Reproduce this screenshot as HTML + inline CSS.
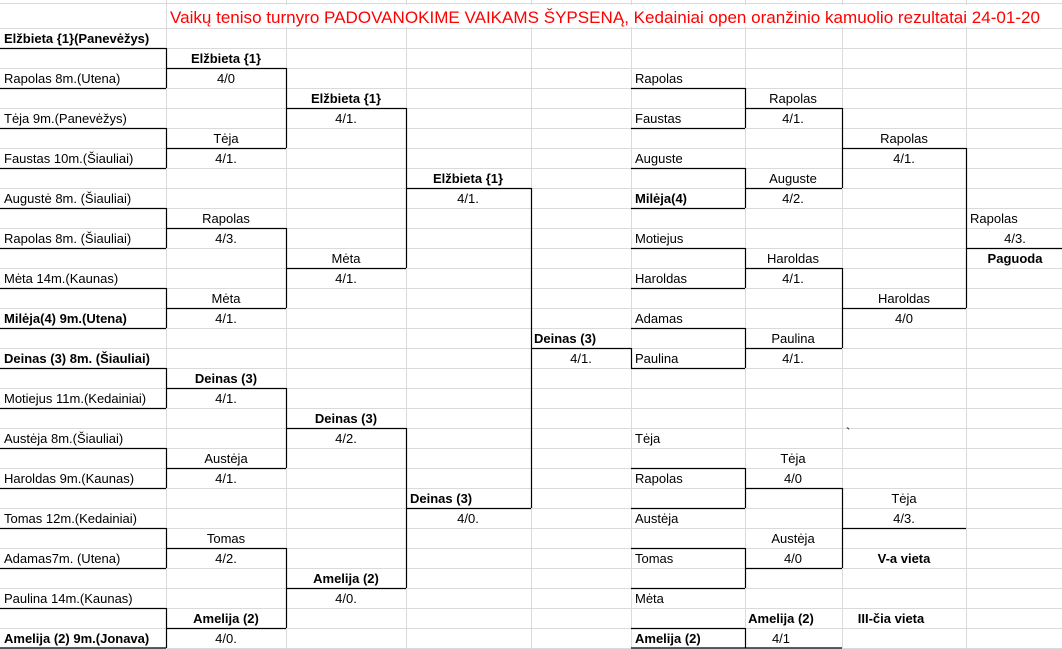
<!DOCTYPE html>
<html><head><meta charset="utf-8">
<style>
html,body{margin:0;padding:0;background:#fff;}
svg{display:block;}
text{font-family:"Liberation Sans",Arial,sans-serif;font-size:13px;fill:#000;}
.b{font-weight:bold;}
.c{text-anchor:middle;}
</style></head>
<body>
<svg width="1062" height="649" viewBox="0 0 1062 649" xmlns="http://www.w3.org/2000/svg">
<g stroke="#dadada" stroke-width="1">
<path d="M0 3.5H1062 M0 28.5H1062 M0 48.5H1062 M0 68.5H1062 M0 88.5H1062 M0 108.5H1062 M0 128.5H1062 M0 148.5H1062 M0 168.5H1062 M0 188.5H1062 M0 208.5H1062 M0 228.5H1062 M0 248.5H1062 M0 268.5H1062 M0 288.5H1062 M0 308.5H1062 M0 328.5H1062 M0 348.5H1062 M0 368.5H1062 M0 388.5H1062 M0 408.5H1062 M0 428.5H1062 M0 448.5H1062 M0 468.5H1062 M0 488.5H1062 M0 508.5H1062 M0 528.5H1062 M0 548.5H1062 M0 568.5H1062 M0 588.5H1062 M0 608.5H1062 M0 628.5H1062 M0 648.5H1062"/>
<path d="M166.5 0V649 M286.5 0V649 M406.5 0V649 M531.5 0V649 M631.5 0V649 M745.5 0V649 M842.5 0V649 M966.5 0V649"/>
</g>
<rect x="168" y="5" width="880" height="22" fill="#fff"/>
<g stroke="#000" stroke-width="1.2" fill="none">
<path d="M0 48.5H166 M0 88.5H166 M0 128.5H166 M0 168.5H166 M0 208.5H166 M0 248.5H166 M0 288.5H166 M0 328.5H166 M0 368.5H166 M0 408.5H166 M0 448.5H166 M0 488.5H166 M0 528.5H166 M0 568.5H166 M0 608.5H166 M0 648H166"/>
<path d="M166.5 48V88 M166.5 128V168 M166.5 208V248 M166.5 288V328 M166.5 368V408 M166.5 448V488 M166.5 528V568 M166.5 608V648"/>
<path d="M166 68.5H286 M166 148.5H286 M166 228.5H286 M166 308.5H286 M166 388.5H286 M166 468.5H286 M166 548.5H286 M166 628.5H286"/>
<path d="M286.5 68V148 M286.5 228V308 M286.5 388V468 M286.5 548V628"/>
<path d="M286 108.5H406 M286 268.5H406 M286 428.5H406 M286 588.5H406"/>
<path d="M406.5 108V268 M406.5 428V588"/>
<path d="M406 188.5H531 M406 508.5H531 M531.5 188V508"/>
<path d="M531 348.5H631 M631.5 348V368"/>
<path d="M631 88.5H745 M631 128.5H745 M631 168.5H745 M631 208.5H745 M631 248.5H745 M631 288.5H745 M631 328.5H745 M631 368.5H745 M631 468.5H745 M631 508.5H745 M631 548.5H745 M631 588.5H745 M631 628.5H745 M631 648H745"/>
<path d="M745.5 88V128 M745.5 168V208 M745.5 248V288 M745.5 328V368 M745.5 468V508 M745.5 548V588 M745.5 628V648"/>
<path d="M745 108.5H842 M745 188.5H842 M745 268.5H842 M745 348.5H842 M745 488.5H842 M745 568.5H842 M745 648H842"/>
<path d="M842.5 108V188 M842.5 268V348 M842.5 488V568"/>
<path d="M842 148.5H966 M842 308.5H966 M842 528.5H966 M966.5 148V308 M966 248.5H1062"/>
</g>
<text x="170" y="23" style="font-size:17px;fill:#ff0000" textLength="870" lengthAdjust="spacingAndGlyphs">Vaikų teniso turnyro PADOVANOKIME VAIKAMS ŠYPSENĄ, Kedainiai open oranžinio kamuolio rezultatai 24-01-20</text>

<!-- Column A -->
<text x="4" y="43" class="b">Elžbieta {1}(Panevėžys)</text>
<text x="4" y="83">Rapolas 8m.(Utena)</text>
<text x="4" y="123">Tėja 9m.(Panevėžys)</text>
<text x="4" y="163">Faustas 10m.(Šiauliai)</text>
<text x="4" y="203">Augustė 8m. (Šiauliai)</text>
<text x="4" y="243">Rapolas  8m.  (Šiauliai)</text>
<text x="4" y="283">Mėta 14m.(Kaunas)</text>
<text x="4" y="323" class="b">Milėja(4) 9m.(Utena)</text>
<text x="4" y="363" class="b">Deinas (3) 8m. (Šiauliai)</text>
<text x="4" y="403">Motiejus 11m.(Kedainiai)</text>
<text x="4" y="443">Austėja 8m.(Šiauliai)</text>
<text x="4" y="483">Haroldas 9m.(Kaunas)</text>
<text x="4" y="523">Tomas 12m.(Kedainiai)</text>
<text x="4" y="563">Adamas7m. (Utena)</text>
<text x="4" y="603">Paulina 14m.(Kaunas)</text>
<text x="4" y="643" class="b">Amelija (2) 9m.(Jonava)</text>

<!-- Column B -->
<text x="226" y="63" class="b c">Elžbieta {1}</text><text x="226" y="83" class="c">4/0</text>
<text x="226" y="143" class="c">Tėja</text><text x="226" y="163" class="c">4/1.</text>
<text x="226" y="223" class="c">Rapolas</text><text x="226" y="243" class="c">4/3.</text>
<text x="226" y="303" class="c">Mėta</text><text x="226" y="323" class="c">4/1.</text>
<text x="226" y="383" class="b c">Deinas (3)</text><text x="226" y="403" class="c">4/1.</text>
<text x="226" y="463" class="c">Austėja</text><text x="226" y="483" class="c">4/1.</text>
<text x="226" y="543" class="c">Tomas</text><text x="226" y="563" class="c">4/2.</text>
<text x="226" y="623" class="b c">Amelija (2)</text><text x="226" y="643" class="c">4/0.</text>

<!-- Column C -->
<text x="346" y="103" class="b c">Elžbieta {1}</text><text x="346" y="123" class="c">4/1.</text>
<text x="346" y="263" class="c">Mėta</text><text x="346" y="283" class="c">4/1.</text>
<text x="346" y="423" class="b c">Deinas (3)</text><text x="346" y="443" class="c">4/2.</text>
<text x="346" y="583" class="b c">Amelija (2)</text><text x="346" y="603" class="c">4/0.</text>

<!-- Column D -->
<text x="468" y="183" class="b c">Elžbieta {1}</text><text x="468" y="203" class="c">4/1.</text>
<text x="410" y="503" class="b">Deinas (3)</text><text x="468" y="523" class="c">4/0.</text>

<!-- Column E -->
<text x="534" y="343" class="b">Deinas (3)</text><text x="581" y="363" class="c">4/1.</text>

<!-- Column F -->
<text x="635" y="83">Rapolas</text>
<text x="635" y="123">Faustas</text>
<text x="635" y="163">Auguste</text>
<text x="635" y="203" class="b">Milėja(4)</text>
<text x="635" y="243">Motiejus</text>
<text x="635" y="283">Haroldas</text>
<text x="635" y="323">Adamas</text>
<text x="635" y="363">Paulina</text>
<text x="635" y="443">Tėja</text>
<text x="635" y="483">Rapolas</text>
<text x="635" y="523">Austėja</text>
<text x="635" y="563">Tomas</text>
<text x="635" y="603">Mėta</text>
<text x="635" y="643" class="b">Amelija (2)</text>

<!-- Column G -->
<text x="793" y="103" class="c">Rapolas</text><text x="793" y="123" class="c">4/1.</text>
<text x="793" y="183" class="c">Auguste</text><text x="793" y="203" class="c">4/2.</text>
<text x="793" y="263" class="c">Haroldas</text><text x="793" y="283" class="c">4/1.</text>
<text x="793" y="343" class="c">Paulina</text><text x="793" y="363" class="c">4/1.</text>
<text x="793" y="463" class="c">Tėja</text><text x="793" y="483" class="c">4/0</text>
<text x="793" y="543" class="c">Austėja</text><text x="793" y="563" class="c">4/0</text>
<text x="781" y="623" class="b c">Amelija (2)</text><text x="781" y="643" class="c">4/1</text>

<!-- Column H -->
<text x="904" y="143" class="c">Rapolas</text><text x="904" y="163" class="c">4/1.</text>
<text x="904" y="303" class="c">Haroldas</text><text x="904" y="323" class="c">4/0</text>
<text x="846" y="437">`</text>
<text x="904" y="503" class="c">Tėja</text><text x="904" y="523" class="c">4/3.</text>
<text x="904" y="563" class="b c">V-a vieta</text>
<text x="891" y="623" class="b c">III-čia vieta</text>

<!-- Column I -->
<text x="970" y="223">Rapolas</text>
<text x="1015" y="243" class="c">4/3.</text>
<text x="1015" y="263" class="b c">Paguoda</text>
</svg>
</body></html>
